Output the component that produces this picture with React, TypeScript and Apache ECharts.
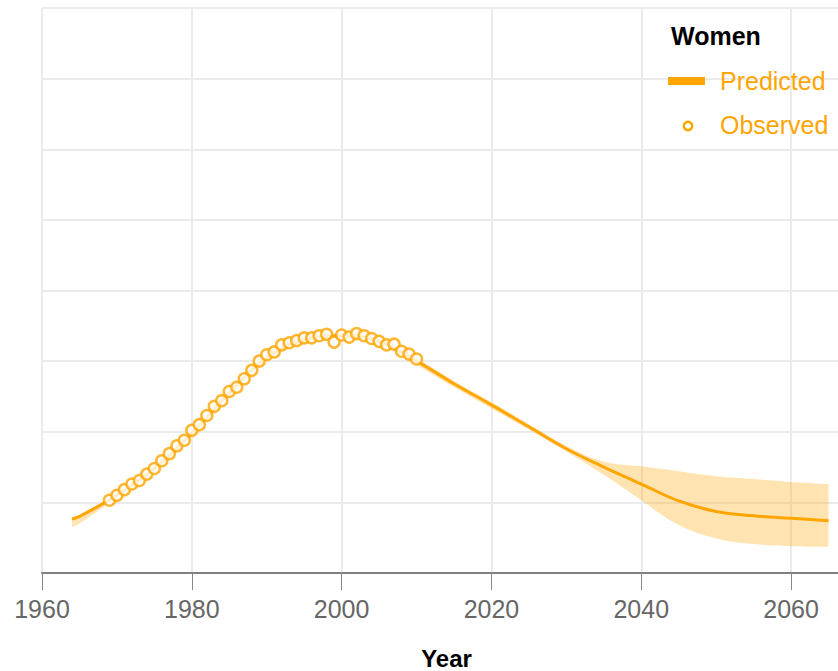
import React, { useEffect, useRef } from "react";
import * as echarts from "echarts";

const xTickLabels = ["1960", "1980", "2000", "2020", "2040", "2060"];

const observedYears = [
  1969, 1970, 1971, 1972, 1973, 1974, 1975, 1976, 1977, 1978, 1979, 1980, 1981, 1982,
  1983, 1984, 1985, 1986, 1987, 1988, 1989, 1990, 1991, 1992, 1993, 1994, 1995, 1996,
  1997, 1998, 1999, 2000, 2001, 2002, 2003, 2004, 2005, 2006, 2007, 2008, 2009, 2010,
];
const observedValues = [
  1.03, 1.1, 1.18, 1.26, 1.31, 1.4, 1.48, 1.59, 1.69, 1.8, 1.88, 2.02, 2.1, 2.23,
  2.36, 2.44, 2.57, 2.63, 2.75, 2.87, 3.0, 3.09, 3.13, 3.23, 3.26, 3.29, 3.33, 3.33,
  3.36, 3.38, 3.27, 3.37, 3.34, 3.39, 3.36, 3.32, 3.28, 3.23, 3.24, 3.14, 3.1, 3.03,
];

const predictedYears = [
  1964, 1965, 1970, 1975, 1980, 1985, 1990, 1995, 2000, 2005, 2010, 2015, 2020, 2025,
  2030, 2035, 2040, 2045, 2050, 2055, 2060, 2065,
];
const predictedValues = [
  0.765, 0.8, 1.1, 1.48, 1.98, 2.55, 3.05, 3.3, 3.36, 3.28, 3.0, 2.68, 2.38, 2.07,
  1.76, 1.5, 1.26, 1.02, 0.87, 0.81, 0.775, 0.74,
];
const lowerValues = [
  0.65, 0.7, 1.07, 1.45, 1.95, 2.52, 3.02, 3.27, 3.33, 3.25, 2.95, 2.63, 2.33, 2.03,
  1.72, 1.39, 1.03, 0.68, 0.49, 0.41, 0.38, 0.37,
];
const upperValues = [
  0.79, 0.83, 1.13, 1.51, 2.01, 2.58, 3.08, 3.33, 3.39, 3.31, 3.04, 2.72, 2.42, 2.11,
  1.8, 1.58, 1.51, 1.44, 1.37, 1.33, 1.29, 1.26,
];

const ORANGE = "#ffa500";
const FONT = "'Liberation Sans', Arial, sans-serif";

export default function App() {
  const ref = useRef<HTMLDivElement>(null);

  useEffect(() => {
    if (!ref.current) return;
    const chart = echarts.init(ref.current, null, { renderer: "svg" });
    const pairs = (ys: number[], vs: number[]) => ys.map((y, i) => [y, vs[i]]);
    // value first, year second, so that stacking applies to the value dimension
    const swapped = (ys: number[], vs: number[]) => ys.map((y, i) => [vs[i], y]);
    chart.setOption({
      animation: false,
      grid: {
        left: 42,
        top: 8,
        right: 0,
        bottom: 98,
        containLabel: false,
        outerBoundsMode: "none",
      },
      xAxis: {
        type: "value",
        min: 1960,
        max: 2068,
        interval: 20,
        name: "Year",
        nameLocation: "middle",
        nameGap: 73,
        nameTextStyle: { fontFamily: FONT, fontSize: 24, fontWeight: "bold", color: "#000" },
        axisLine: { show: true, lineStyle: { color: "#808080", width: 2 } },
        axisTick: { show: true, length: 17, lineStyle: { color: "#888", width: 1 } },
        axisLabel: {
          margin: 23,
          fontFamily: FONT,
          fontSize: 25,
          color: "#666",
          formatter: (v: number) => (xTickLabels.includes(String(v)) ? String(v) : ""),
        },
        splitLine: { show: true, lineStyle: { color: "#ebebeb", width: 2 } },
      },
      yAxis: {
        type: "value",
        min: 0,
        max: 8,
        interval: 1,
        axisLine: { show: false },
        axisTick: { show: false },
        axisLabel: { show: false },
        splitLine: { show: true, lineStyle: { color: "#ebebeb", width: 2 } },
      },
      series: [
        {
          name: "bandLower",
          type: "line",
          stack: "band",
          smooth: 0.4,
          symbol: "none",
          dimensions: ["v", "year"],
          encode: { x: "year", y: "v" },
          lineStyle: { opacity: 0 },
          data: swapped(predictedYears, lowerValues),
          silent: true,
          z: 1,
        },
        {
          name: "bandUpper",
          type: "line",
          stack: "band",
          smooth: 0.4,
          symbol: "none",
          dimensions: ["v", "year"],
          encode: { x: "year", y: "v" },
          lineStyle: { opacity: 0 },
          areaStyle: { color: "rgba(255,165,0,0.3)", opacity: 1 },
          data: swapped(
            predictedYears,
            upperValues.map((u, i) => u - lowerValues[i])
          ),
          silent: true,
          z: 1,
        },
        {
          name: "Predicted",
          type: "line",
          smooth: 0.4,
          symbol: "none",
          lineStyle: { color: ORANGE, width: 3 },
          data: pairs(predictedYears, predictedValues),
          z: 2,
        },
        {
          name: "Observed",
          type: "scatter",
          symbol: "circle",
          symbolSize: 11,
          itemStyle: { color: "#fff", borderColor: ORANGE, borderWidth: 2.5 },
          data: pairs(observedYears, observedValues),
          z: 3,
        },
      ],
      graphic: [
        {
          type: "text",
          left: 671,
          top: 23,
          z: 100,
          style: { text: "Women", fontFamily: FONT, fontSize: 25, fontWeight: "bold", fill: "#000" },
        },
        {
          type: "rect",
          z: 100,
          shape: { x: 668, y: 77, width: 37, height: 8 },
          style: { fill: ORANGE },
        },
        {
          type: "text",
          left: 720,
          top: 68,
          z: 100,
          style: { text: "Predicted", fontFamily: FONT, fontSize: 25, fill: ORANGE },
        },
        {
          type: "circle",
          z: 100,
          shape: { cx: 688, cy: 126, r: 4.2 },
          style: { fill: "#fff", stroke: ORANGE, lineWidth: 2.5 },
        },
        {
          type: "text",
          left: 720,
          top: 112,
          z: 100,
          style: { text: "Observed", fontFamily: FONT, fontSize: 25, fill: ORANGE },
        },
      ],
    });
    return () => chart.dispose();
  }, []);

  return (
    <div
      style={{
        position: "fixed",
        left: 0,
        top: 0,
        width: 838,
        height: 671,
        overflow: "hidden",
        background: "#fff",
      }}
    >
      <div ref={ref} style={{ width: 851, height: 671 }} />
    </div>
  );
}
